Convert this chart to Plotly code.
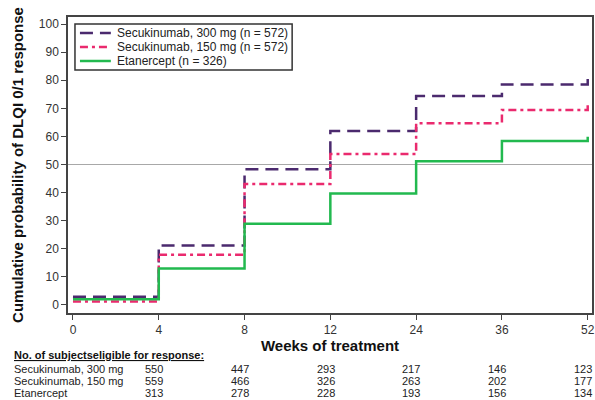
import plotly.graph_objects as go

weeks = ["0", "4", "8", "12", "24", "36", "52"]
series_names = ["Secukinumab, 300 mg (n = 572)", "Secukinumab, 150 mg (n = 572)", "Etanercept (n = 326)"]
sec300 = [2.9, 21.2, 48.3, 61.9, 74.4, 78.5, 80.4]
sec150 = [1.2, 17.9, 43.1, 53.7, 64.7, 69.4, 71.5]
etan = [2.0, 13.0, 28.9, 39.7, 51.2, 58.4, 59.9]
table_labels = ["Secukinumab, 300 mg", "Secukinumab, 150 mg", "Etanercept"]
n300 = [550, 447, 293, 217, 146, 123]
n150 = [559, 466, 326, 263, 202, 177]
netan = [313, 278, 228, 193, 156, 134]

idx = list(range(len(weeks)))
W, H = 595, 400
ml, mr, mt, mb = 68, 1, 17, 87
pw = W - ml - mr
ph = H - mt - mb

def py(px):
    return (H - mb - px) / ph

def pxx(px):
    return (px - ml) / pw

fig = go.Figure()
fig.add_shape(type="line", xref="paper", yref="y", x0=0, x1=1, y0=50, y1=50,
              line=dict(color="#a8a8a8", width=1.2), layer="below")

styles = [("#4b2a6e", "13px,7px"), ("#ea2a6e", "8px,4px,3px,4px"), ("#22b94f", "solid")]
for name, ys, (c, d) in zip(series_names, [sec300, sec150, etan], styles):
    fig.add_trace(go.Scatter(x=idx, y=ys, mode="lines", name=name, line_shape="hv",
                             line=dict(color=c, width=2.5, dash=d), showlegend=False))

ann = []
# legend box drawn by hand to match compact row spacing
fig.add_shape(type="rect", xref="paper", yref="paper", x0=pxx(75), x1=pxx(293), y0=py(24), y1=py(70),
              line=dict(color="#333", width=1.5), fillcolor="white")
for k, (name, (c, d)) in enumerate(zip(series_names, styles)):
    yy = py(33 + 14 * k)
    fig.add_shape(type="line", xref="paper", yref="paper", x0=pxx(80), x1=pxx(111), y0=yy, y1=yy,
                  line=dict(color=c, width=2.5, dash=d))
    ann.append(dict(text=name, xref="paper", yref="paper", x=pxx(115), y=yy, xanchor="left",
                    yanchor="middle", showarrow=False, font=dict(size=12, color="#222")))

ann.append(dict(text="<b><u>No. of subjectseligible for response:</u></b>", xref="paper", yref="paper",
                x=pxx(12), y=py(355), xanchor="left", yanchor="middle", showarrow=False,
                font=dict(size=11, color="#111")))
for r, (lab, vals) in enumerate(zip(table_labels, [n300, n150, netan])):
    yy = py(369 + 12 * r)
    ann.append(dict(text=lab, xref="paper", yref="paper", x=pxx(12), y=yy,
                    xanchor="left", yanchor="middle", showarrow=False, font=dict(size=11, color="#222")))
    for i, v in enumerate(vals):
        ann.append(dict(text=str(v), xref="x", yref="paper", x=i + 1 - 0.055, y=yy,
                        xanchor="center", yanchor="middle", showarrow=False, font=dict(size=11, color="#222")))

fig.update_layout(
    width=W, height=H, margin=dict(l=ml, r=mr, t=mt, b=mb),
    paper_bgcolor="white", plot_bgcolor="white",
    font=dict(family="Arial, Liberation Sans, sans-serif", color="#333"),
    showlegend=False,
    annotations=ann,
)
fig.update_xaxes(range=[-0.058, 6.05], tickmode="array", tickvals=idx, ticktext=weeks,
                 showgrid=False, zeroline=False, showline=True, mirror=True, linecolor="#444", linewidth=1.5,
                 ticks="outside", ticklen=5, tickcolor="#444", tickfont=dict(size=12, color="#333"),
                 title=dict(text="<b>Weeks of treatment</b>", font=dict(size=15, color="#111"), standoff=0))
fig.update_yaxes(range=[-2.85, 102.5], tickmode="array", tickvals=list(range(0, 101, 10)),
                 showgrid=False, zeroline=False, showline=True, mirror=True, linecolor="#444", linewidth=1.5,
                 ticks="outside", ticklen=5, tickcolor="#444", tickfont=dict(size=12, color="#333"),
                 title=dict(text="<b>Cumulative probability of DLQI 0/1 response</b>",
                            font=dict(size=15, color="#111"), standoff=12))
fig.write_html("out.html", config={"displayModeBar": False},
               post_script="document.body.style.margin='0';document.body.style.overflow='hidden';")
